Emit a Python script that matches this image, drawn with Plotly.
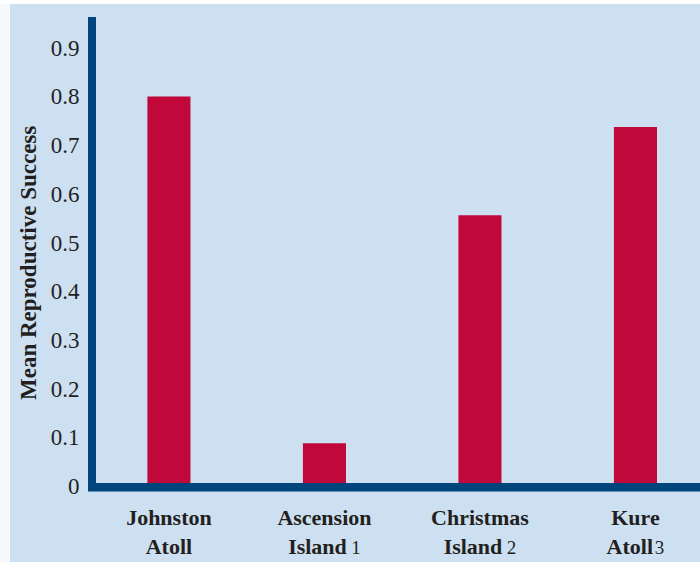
import plotly.graph_objects as go

categories = ["Johnston Atoll", "Ascension Island", "Christmas Island", "Kure Atoll"]
tick_labels = [
    "Johnston<br>Atoll",
    "Ascension<br>Island\u2009<span style='font-weight:normal;font-size:19px'>1</span>",
    "Christmas<br>Island\u2009<span style='font-weight:normal;font-size:19px'>2</span>",
    "Kure<br>Atoll\u200a<span style='font-weight:normal;font-size:19px'>3</span>",
]
values = [0.80, 0.088, 0.556, 0.737]
y_ticks = [0, 0.1, 0.2, 0.3, 0.4, 0.5, 0.6, 0.7, 0.8, 0.9]
y_tick_text = ["0", "0.1", "0.2", "0.3", "0.4", "0.5", "0.6", "0.7", "0.8", "0.9"]

BG = "#cde0f1"
RED = "#c0083a"
NAVY = "#00457c"
FONT = "Liberation Serif"

PLOT_BOTTOM = 486
PLOT_TOP = 17
PLOT_H = PLOT_BOTTOM - PLOT_TOP
PLOT_LEFT = 96
PLOT_W = 700 - PLOT_LEFT


def py(p):
    return (PLOT_BOTTOM - p) / PLOT_H


def px(p):
    return (p - PLOT_LEFT) / PLOT_W


fig = go.Figure(
    go.Bar(x=list(range(len(categories))), y=values, width=0.277,
           marker=dict(color=RED, line=dict(width=0)),
           hovertext=categories)
)

fig.update_layout(
    width=700, height=562,
    margin=dict(l=PLOT_LEFT, r=0, t=PLOT_TOP, b=562 - PLOT_BOTTOM),
    paper_bgcolor=BG, plot_bgcolor=BG,
    showlegend=False,
    font=dict(family=FONT, color="#231f20", size=22),
    xaxis=dict(
        range=[-0.469, 3.415], tickvals=list(range(len(categories))), ticktext=tick_labels,
        showline=False, showgrid=False, zeroline=False,
        ticks="", ticklabelstandoff=16,
        tickfont=dict(family=FONT, size=22, weight="bold", color="#231f20"),
        fixedrange=True,
    ),
    yaxis=dict(
        range=[0, 0.963], tickvals=y_ticks, ticktext=y_tick_text,
        showline=True, linewidth=8, linecolor=NAVY, showgrid=False, zeroline=False,
        ticks="", ticklabelstandoff=4, tickfont=dict(family=FONT, size=23, color="#231f20"),
        fixedrange=True,
    ),
    shapes=[
        dict(type="rect", xref="paper", yref="paper", x0=-0.2, x1=px(10),
             y0=-0.3, y1=1.2, fillcolor="#f7fafd", line=dict(width=0), layer="below"),
        dict(type="rect", xref="paper", yref="paper", x0=-0.2, x1=1.1,
             y0=py(4), y1=1.2, fillcolor="#ffffff", line=dict(width=0), layer="below"),
        dict(type="rect", xref="paper", yref="paper", x0=px(88), x1=1.0,
             y0=py(491.5), y1=py(483), fillcolor=NAVY, line=dict(width=0), layer="above"),
    ],
    annotations=[
        dict(text="<b>Mean Reproductive Success</b>", xref="paper", yref="paper",
             x=px(28), y=py(263), textangle=-90, showarrow=False,
             xanchor="center", yanchor="middle", font=dict(family=FONT, size=23, color="#231f20")),
    ],
)

fig.write_html("out.html", config={"displayModeBar": False},
               post_script="document.body.style.margin='0';document.body.style.overflow='hidden';")
